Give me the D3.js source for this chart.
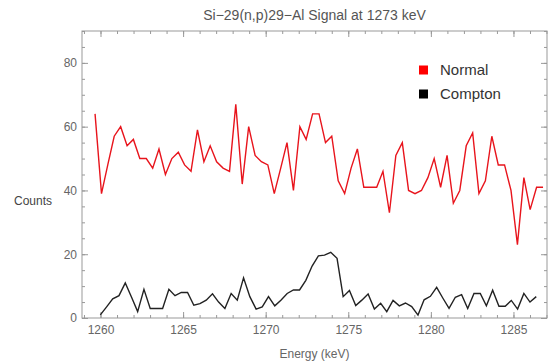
<!DOCTYPE html>
<html>
<head>
<meta charset="utf-8">
<script src="https://cdn.jsdelivr.net/npm/d3@7"></script>
<style>
  body { margin: 0; background: #fff; }
  svg { display: block; font-family: "Liberation Sans", Arial, sans-serif; }
  .tick text { fill: #666; font-size: 12px; }
  .tick line { stroke: #999; }
</style>
</head>
<body>
<svg width="549" height="364"></svg>
<script>
// energies of each bin (keV) and counts
const normalEnergy = [1259.67, 1260.06, 1260.44, 1260.83, 1261.22, 1261.61, 1261.99, 1262.38, 1262.77, 1263.16,
  1263.54, 1263.93, 1264.32, 1264.71, 1265.09, 1265.48, 1265.87, 1266.26, 1266.64, 1267.03,
  1267.42, 1267.81, 1268.19, 1268.58, 1268.97, 1269.36, 1269.74, 1270.13, 1270.52, 1270.91,
  1271.29, 1271.68, 1272.07, 1272.45, 1272.84, 1273.23, 1273.62, 1274.00, 1274.39, 1274.78,
  1275.17, 1275.55, 1275.94, 1276.33, 1276.72, 1277.10, 1277.49, 1277.88, 1278.27, 1278.65,
  1279.04, 1279.43, 1279.82, 1280.20, 1280.59, 1280.98, 1281.36, 1281.75, 1282.14, 1282.53,
  1282.91, 1283.30, 1283.69, 1284.08, 1284.46, 1284.85, 1285.24, 1285.63, 1286.01, 1286.40, 1286.79];
const normalCounts = [64, 39, 48, 57, 60, 54, 56, 50, 50, 47,
  53, 45, 50, 52, 48, 46, 59, 49, 54, 49,
  47, 46, 67, 42, 60, 51, 49, 48, 39, 47,
  55, 40, 60, 56, 64, 64, 55, 57, 43, 39,
  47, 53, 41, 41, 41, 46, 33, 51, 55, 40,
  39, 40, 44, 50, 41, 51, 36, 40, 54, 58,
  39, 43, 57, 48, 48, 40, 23, 44, 34, 41, 41];

const comptonEnergy = [1259.99, 1260.37, 1260.74, 1261.12, 1261.50, 1261.88, 1262.25, 1262.63, 1263.01, 1263.38,
  1263.76, 1264.14, 1264.51, 1264.89, 1265.27, 1265.65, 1266.02, 1266.40, 1266.78, 1267.15,
  1267.53, 1267.91, 1268.28, 1268.66, 1269.04, 1269.42, 1269.79, 1270.17, 1270.55, 1270.92,
  1271.30, 1271.68, 1272.05, 1272.43, 1272.81, 1273.19, 1273.56, 1273.94, 1274.32, 1274.69,
  1275.07, 1275.45, 1275.82, 1276.20, 1276.58, 1276.96, 1277.33, 1277.71, 1278.09, 1278.46,
  1278.84, 1279.22, 1279.59, 1279.97, 1280.35, 1280.73, 1281.10, 1281.48, 1281.86, 1282.23,
  1282.61, 1282.99, 1283.36, 1283.74, 1284.12, 1284.50, 1284.87, 1285.25, 1285.63, 1286.00, 1286.38];
const comptonCounts = [1, 3.5, 6, 7, 11, 6.5, 2, 9, 3, 3,
  3, 9, 7, 8, 8, 4, 4.5, 5.6, 7.6, 5,
  3, 7.7, 5.6, 12.6, 6.7, 2.8, 3.5, 6.7, 3.8, 5.6,
  7.7, 8.8, 8.8, 11.8, 16.3, 19.5, 19.7, 20.6, 18.7, 6.7,
  8.6, 3.9, 5.6, 7.5, 2.8, 4.6, 2, 5.5, 3.8, 4.7,
  3.6, 0.9, 5.7, 6.8, 9.6, 6.2, 3, 6.5, 7.3, 3,
  7.7, 7.7, 3.8, 8.7, 3.7, 3.7, 5.5, 2.8, 7.7, 5, 6.7];

const xMajorTicks = [1260, 1265, 1270, 1275, 1280, 1285];
const yMajorTicks = [0, 20, 40, 60, 80];
const seriesNames = ["Normal", "Compton"];
const seriesColors = ["#e8141c", "#222"];

const svg = d3.select("svg");
const plotLeft = 82, plotRight = 547, plotTop = 31, plotBottom = 318;

const x = d3.scaleLinear().domain([1258.88, 1287.03]).range([plotLeft, plotRight]);
const y = d3.scaleLinear().domain([0, 90]).range([plotBottom, plotTop]);

const xMinor = d3.range(1259, 1288, 1);
const yMinor = d3.range(0, 91, 5);

// frame ticks point inward, mirrored on top and right
function ticksX(yPos, labels, dir) {
  svg.append("g").attr("transform", `translate(0,${yPos})`)
    .call((dir > 0 ? d3.axisBottom(x) : d3.axisTop(x)).tickValues(xMinor).tickSize(-3).tickFormat(""))
    .call(g => g.select(".domain").remove());
  const ax = (dir > 0 ? d3.axisBottom(x) : d3.axisTop(x)).tickValues(xMajorTicks).tickSize(-6).tickPadding(7)
    .tickFormat(labels ? d3.format("d") : "");
  svg.append("g").attr("transform", `translate(0,${yPos})`).call(ax)
    .call(g => g.select(".domain").remove());
}
function ticksY(xPos, labels, dir) {
  svg.append("g").attr("transform", `translate(${xPos},0)`)
    .call((dir > 0 ? d3.axisLeft(y) : d3.axisRight(y)).tickValues(yMinor).tickSize(-3).tickFormat(""))
    .call(g => g.select(".domain").remove());
  const ax = (dir > 0 ? d3.axisLeft(y) : d3.axisRight(y)).tickValues(yMajorTicks).tickSize(-6).tickPadding(5)
    .tickFormat(labels ? d3.format("d") : "");
  svg.append("g").attr("transform", `translate(${xPos},0)`).call(ax)
    .call(g => g.select(".domain").remove());
}
ticksX(plotBottom, true, 1);
ticksX(plotTop, false, -1);
ticksY(plotLeft, true, 1);
ticksY(plotRight, false, -1);

svg.selectAll("g").attr("font-family", null).attr("font-size", null);

svg.append("rect")
  .attr("x", plotLeft).attr("y", plotTop)
  .attr("width", plotRight - plotLeft).attr("height", plotBottom - plotTop)
  .attr("fill", "none").attr("stroke", "#999");

const line = d3.line().x(d => x(d[0])).y(d => y(d[1]));

svg.append("path")
  .datum(d3.zip(normalEnergy, normalCounts))
  .attr("fill", "none").attr("stroke", seriesColors[0]).attr("stroke-width", 1.4)
  .attr("d", line);

svg.append("path")
  .datum(d3.zip(comptonEnergy, comptonCounts))
  .attr("fill", "none").attr("stroke", seriesColors[1]).attr("stroke-width", 1.4)
  .attr("d", line);

// title and axis labels
svg.append("text")
  .attr("x", (plotLeft + plotRight) / 2).attr("y", 20)
  .attr("text-anchor", "middle").attr("fill", "#555").attr("font-size", 14)
  .text("Si−29(n,p)29−Al Signal at 1273 keV");

svg.append("text")
  .attr("x", (plotLeft + plotRight) / 2).attr("y", 358)
  .attr("text-anchor", "middle").attr("fill", "#666").attr("font-size", 12)
  .text("Energy (keV)");

svg.append("text")
  .attr("x", 33).attr("y", 205)
  .attr("text-anchor", "middle").attr("fill", "#444").attr("font-size", 12)
  .text("Counts");

// legend
const legend = svg.append("g").attr("transform", "translate(419,0)");
seriesNames.forEach((name, i) => {
  const cy = 70 + i * 24;
  legend.append("rect")
    .attr("x", 0).attr("y", cy - 4.5).attr("width", 9).attr("height", 9)
    .attr("fill", i === 0 ? "#f00" : "#000");
  legend.append("text")
    .attr("x", 21).attr("y", cy + 5)
    .attr("fill", "#333").attr("font-size", 15)
    .text(name);
});
</script>
</body>
</html>
